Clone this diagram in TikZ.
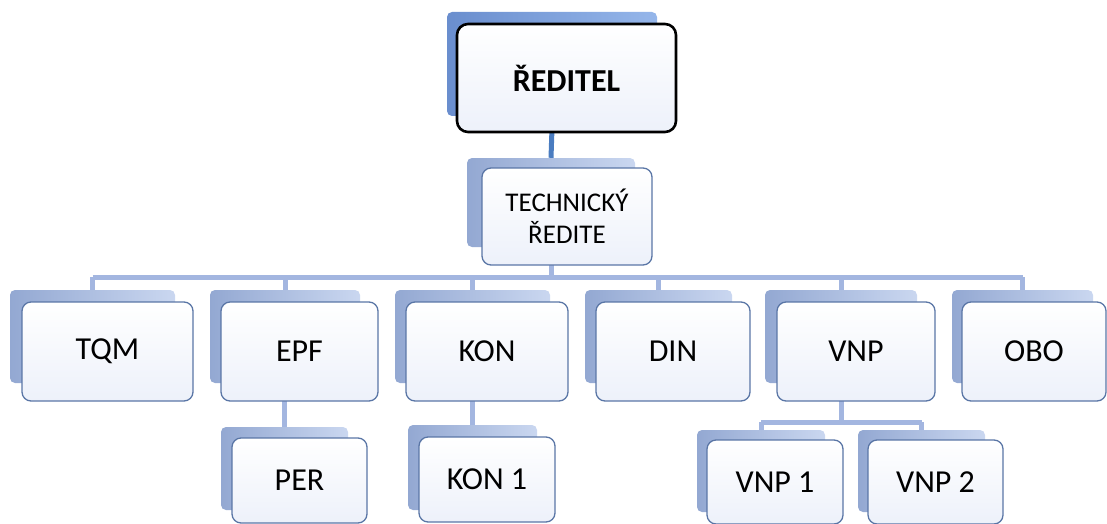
\documentclass[tikz,border=0pt]{standalone}
\usepackage{fontspec}
\setmainfont{Carlito}
\usetikzlibrary{calc}
\definecolor{conn}{HTML}{A3B6E0}
\definecolor{connDark}{HTML}{4A7CC0}
\definecolor{frameBlue}{HTML}{5A76A6}
\definecolor{backL}{HTML}{93A8D2}
\definecolor{backR}{HTML}{CAD7F0}
\definecolor{redL}{HTML}{6A8ECE}
\definecolor{redR}{HTML}{95B6EA}
\definecolor{frontBottom}{HTML}{EDF1FA}
\tikzset{
  backbox/.style={rounded corners=5, draw=none, left color=backL, right color=backR, inner sep=0},
  frontbox/.style={rounded corners=9, draw=frameBlue, line width=1.3, top color=white, bottom color=frontBottom, inner sep=0, font=\fontsize{32}{34}\selectfont, align=center},
  link/.style={draw=conn, line width=5},
}
\begin{document}
\begin{tikzpicture}[x=1pt,y=-1pt]
\useasboundingbox (0,0) rectangle (1107,524);
\coordinate (bus) at (0,277);
\coordinate (subbus) at (0,422);
% back boxes
\node[backbox, left color=redL, right color=redR, minimum width=210, minimum height=104] (redB) at (552,64) {};
\node[backbox, minimum width=168, minimum height=89] (techB) at (551,202.5) {};
\node[backbox, minimum width=165, minimum height=93] (tqmB) at (92.5,336.5) {};
\node[backbox, minimum width=150, minimum height=93] (epfB) at (285,336.5) {};
\node[backbox, minimum width=155, minimum height=93] (konB) at (472.5,336.5) {};
\node[backbox, minimum width=147, minimum height=93] (dinB) at (658.5,336.5) {};
\node[backbox, minimum width=152, minimum height=93] (vnpB) at (841,336.5) {};
\node[backbox, minimum width=141, minimum height=93] (oboB) at (1022.5,336.5) {};
\node[backbox, minimum width=127, minimum height=83] (perB) at (284.5,468.5) {};
\node[backbox, minimum width=129, minimum height=85] (kon1B) at (472.5,467.5) {};
\node[backbox, minimum width=128, minimum height=82] (vnp1B) at (761,471) {};
\node[backbox, minimum width=127, minimum height=82] (vnp2B) at (921.5,471) {};
% connectors (drawn behind front boxes)
\path[link] (tqmB.north |- bus) -- (oboB.north |- bus);
\foreach \b in {tqmB,epfB,konB,dinB,vnpB,oboB}{
  \path[link] (\b.north |- bus) -- (\b.north);
}
\path[link] (techB.center |- 0,262) -- (techB.center |- bus);
\path[link] (perB.north |- 0,398) -- (perB.north);
\path[link] (kon1B.north |- 0,398) -- (kon1B.north);
\path[link] (vnpB.center |- 0,398) -- (vnpB.center |- subbus);
\path[link] (vnp1B.north |- subbus) -- (vnp2B.north |- subbus);
\path[link] (vnp1B.north |- subbus) -- (vnp1B.north);
\path[link] (vnp2B.north |- subbus) -- (vnp2B.north);
\path[draw=connDark, line width=5] (redB.center |- 0,128) -- (techB.north);
% front boxes
\node[frontbox, draw=black, line width=2.6, rounded corners=11, minimum width=219, minimum height=108, font=\fontsize{32}{36}\selectfont\bfseries] (red) at (566.5,78) {ŘEDITEL};
\node[frontbox, minimum width=170, minimum height=97, font=\fontsize{27}{32}\selectfont] (tech) at (567,216.5) {TECHNICKÝ\\ŘEDITE};
\node[frontbox, minimum width=171, minimum height=99] (tqm) at (107.5,351.5) {TQM};
\node[frontbox, minimum width=157, minimum height=99] (epf) at (299.5,351.5) {EPF};
\node[frontbox, minimum width=162, minimum height=99] (kon) at (487,351.5) {KON};
\node[frontbox, minimum width=154, minimum height=99] (din) at (673,351.5) {DIN};
\node[frontbox, minimum width=158, minimum height=99] (vnp) at (856,351.5) {VNP};
\node[frontbox, minimum width=144, minimum height=99] (obo) at (1034,351.5) {OBO};
\node[frontbox, minimum width=135, minimum height=85] (per) at (299.5,480.5) {PER};
\node[frontbox, minimum width=136, minimum height=85] (kon1) at (487,479.5) {KON 1};
\node[frontbox, minimum width=136, minimum height=84] (vnp1) at (775,482) {VNP 1};
\node[frontbox, minimum width=135, minimum height=84] (vnp2) at (935.5,482) {VNP 2};
\end{tikzpicture}
\end{document}
